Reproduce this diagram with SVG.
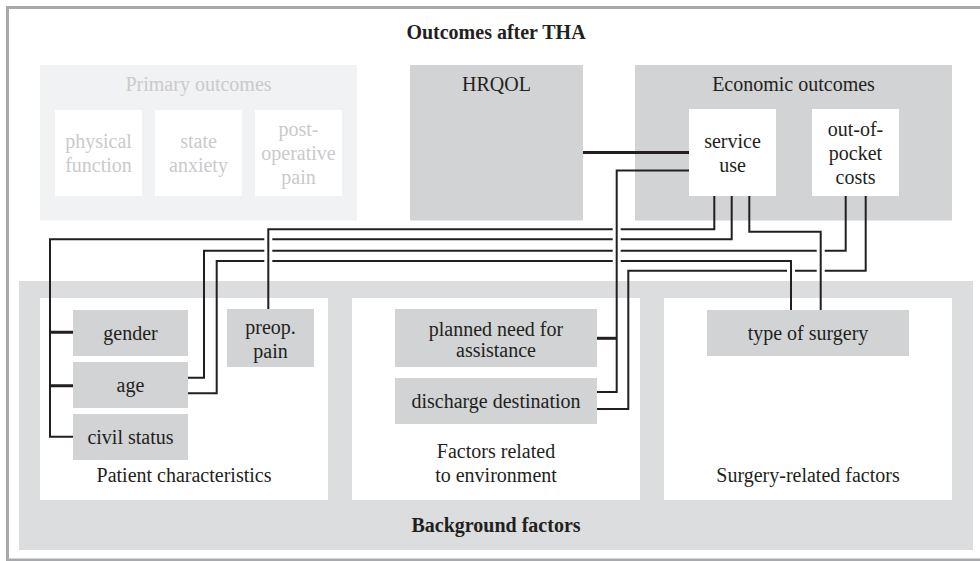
<svg xmlns="http://www.w3.org/2000/svg" width="980" height="561" viewBox="0 0 980 561">
  <style>
    text { font-family: "Liberation Serif", "Times New Roman", serif; font-size: 20px; fill: #231f20; text-anchor: middle; }
    .bold { font-weight: bold; }
    .faint { fill: #c9cacc; }
    .panel { fill: #d1d3d4; }
    .inner { fill: #ffffff; }
    .wire { fill: none; stroke: #231f20; stroke-width: 2; }
    .thick { fill: none; stroke: #231f20; stroke-width: 3; }
    .halo { fill: none; stroke: #ffffff; stroke-width: 8; }
  </style>

  <!-- frame -->
  <rect x="0" y="0" width="980" height="561" fill="#ffffff"/>
  <rect x="7.5" y="7.5" width="990" height="552.5" fill="none" stroke="#a7a9ac" stroke-width="3"/>
  <text class="bold" x="496" y="39">Outcomes after THA</text>

  <!-- outcome groups -->
  <g id="primary-outcomes">
    <rect x="40" y="65" width="317" height="155.5" fill="#f1f2f3"/>
    <text class="faint" x="198.5" y="91">Primary outcomes</text>
  </g>
  <g id="physical-function">
    <rect class="inner" x="55" y="110" width="87" height="86"/>
    <text class="faint" x="98.5" y="148">physical</text>
    <text class="faint" x="98.5" y="172">function</text>
  </g>
  <g id="state-anxiety">
    <rect class="inner" x="155" y="110" width="87" height="86"/>
    <text class="faint" x="198.5" y="148">state</text>
    <text class="faint" x="198.5" y="172">anxiety</text>
  </g>
  <g id="postoperative-pain">
    <rect class="inner" x="255" y="110" width="87" height="86"/>
    <text class="faint" x="298.5" y="136">post-</text>
    <text class="faint" x="298.5" y="160">operative</text>
    <text class="faint" x="298.5" y="184">pain</text>
  </g>

  <g id="hrqol">
    <rect class="panel" x="410" y="65" width="173" height="155.5"/>
    <text x="496.5" y="91">HRQOL</text>
  </g>

  <g id="economic-outcomes">
    <rect class="panel" x="635" y="65" width="317" height="155.5"/>
    <text x="793.5" y="91">Economic outcomes</text>
  </g>
  <g id="service-use">
    <rect class="inner" x="689" y="109" width="87" height="87"/>
    <text x="732.5" y="148">service</text>
    <text x="732.5" y="172">use</text>
  </g>
  <g id="out-of-pocket-costs">
    <rect class="inner" x="812" y="109" width="87" height="87"/>
    <text x="855.5" y="136">out-of-</text>
    <text x="855.5" y="160">pocket</text>
    <text x="855.5" y="184">costs</text>
  </g>

  <!-- background factors -->
  <g id="background-factors">
    <rect x="19" y="281" width="954" height="269" fill="#dcddde"/>
    <text class="bold" x="496" y="531.5">Background factors</text>
  </g>

  <g id="patient-characteristics">
    <rect class="inner" x="40" y="298" width="288" height="202"/>
    <text x="184" y="481.5">Patient characteristics</text>
  </g>
  <g id="gender">
    <rect class="panel" x="73" y="310" width="115" height="46"/>
    <text x="130.5" y="340">gender</text>
  </g>
  <g id="age">
    <rect class="panel" x="73" y="362" width="115" height="46"/>
    <text x="130.5" y="392">age</text>
  </g>
  <g id="civil-status">
    <rect class="panel" x="73" y="414" width="115" height="46"/>
    <text x="130.5" y="444">civil status</text>
  </g>
  <g id="preop-pain">
    <rect class="panel" x="227" y="309" width="87" height="58"/>
    <text x="270.5" y="333.5">preop.</text>
    <text x="270.5" y="358">pain</text>
  </g>

  <g id="environment-factors">
    <rect class="inner" x="352" y="298" width="288" height="202"/>
    <text x="496" y="458">Factors related</text>
    <text x="496" y="481.5">to environment</text>
  </g>
  <g id="planned-need-for-assistance">
    <rect class="panel" x="395" y="309" width="202" height="58"/>
    <text x="496" y="335.5">planned need for</text>
    <text x="496" y="356.5">assistance</text>
  </g>
  <g id="discharge-destination">
    <rect class="panel" x="395" y="378" width="202" height="46"/>
    <text x="496" y="408">discharge destination</text>
  </g>

  <g id="surgery-factors">
    <rect class="inner" x="664" y="298" width="288" height="202"/>
    <text x="808" y="481.5">Surgery-related factors</text>
  </g>
  <g id="type-of-surgery">
    <rect class="panel" x="707" y="310" width="202" height="46"/>
    <text x="808" y="340">type of surgery</text>
  </g>

  <!-- connectors: lower lines first, white halos open the gaps where a line passes over -->
  <g id="connectors">
    <path class="thick" d="M583,152.5 H689"/>

    <path class="wire" d="M845.7,196 V250.7 H204 V377.7 H188"/>
    <path class="wire" d="M865.7,196 V270.7 H628.3 V409 H597"/>
    <path class="wire" d="M731.7,196 V239.3 H50 V436.7 H73"/>
    <path class="thick" d="M50,332.3 H73 M50,385.7 H73"/>

    <path class="halo" d="M791,266 V276"/>
    <path class="wire" d="M791,310 V261 H216.7 V393.3 H188"/>

    <path class="halo" d="M268.3,234 V266"/>
    <path class="wire" d="M714.3,196 V229.3 H268.3 V309"/>

    <path class="halo" d="M616.7,224 V266"/>
    <path class="wire" d="M689,170.5 H616.7 V392 H597"/>
    <path class="thick" d="M616.7,338.3 H597"/>

    <path class="halo" d="M820.7,245 V276"/>
    <path class="wire" d="M749.3,196 V231.7 H820.7 V310"/>
  </g>
</svg>
